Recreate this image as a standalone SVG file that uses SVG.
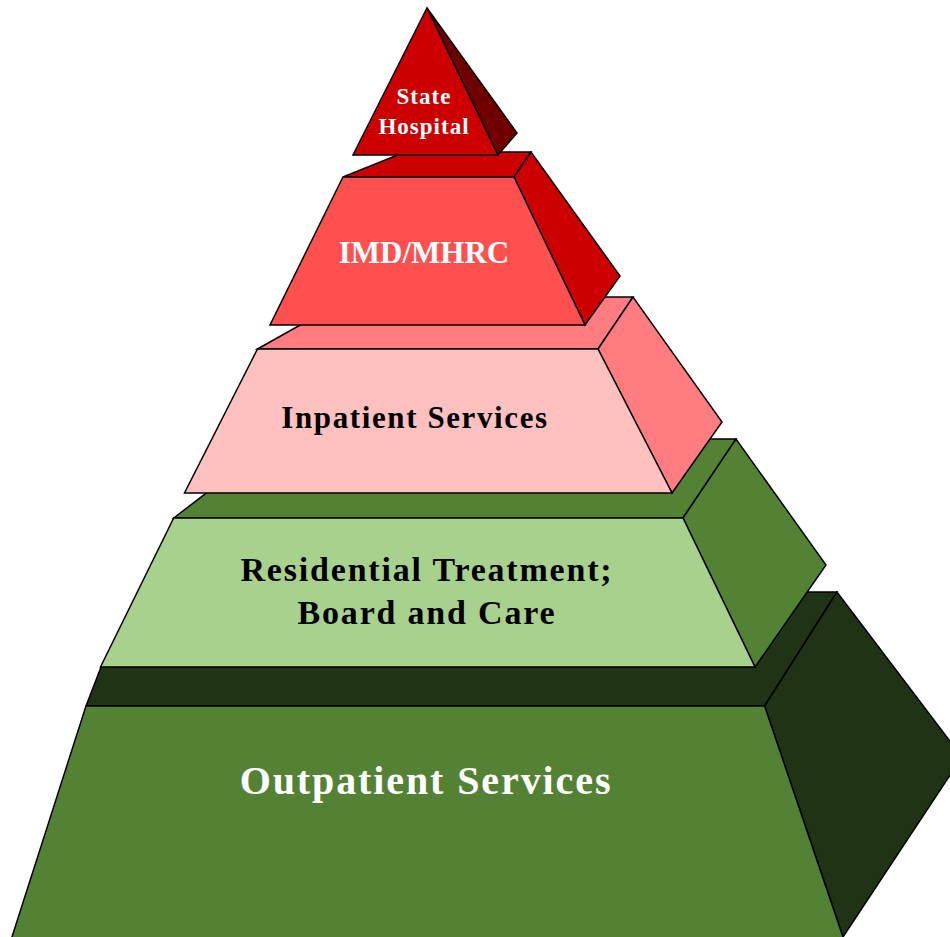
<svg xmlns="http://www.w3.org/2000/svg" width="950" height="937" viewBox="0 0 950 937">
<style>
.e{stroke:#000;stroke-width:1.5;stroke-linejoin:miter}
.t{font-family:"Liberation Serif","Times New Roman",serif;font-weight:bold;text-anchor:middle}
.w{fill:#fff}
.k{fill:#000}
</style>
<rect width="950" height="937" fill="#fff"/>
<g id="tier-outpatient">
<polygon class="e" fill="#203315" points="86,706 101,667 150,592 837,592 764.6,706"/>
<polygon class="e" fill="#203315" points="764.6,706 837,592 962,757 843,937"/>
<polygon class="e" fill="#548235" points="86,706 764.6,706 844,940 11,940"/>
<text class="t w" x="426" y="794" font-size="40" letter-spacing="1.9">Outpatient Services</text>
</g>
<g id="tier-residential">
<polygon class="e" fill="#548235" points="173.7,518 277,439 736,439 683,518"/>
<polygon class="e" fill="#548235" points="683,518 736,439 826,565 755,667"/>
<polygon class="e" fill="#A9D18E" points="173.7,518 683,518 755,667 100.5,667"/>
<text class="t k" x="427" y="581" font-size="34" letter-spacing="1.8">Residential Treatment;</text>
<text class="t k" x="427" y="624" font-size="34" letter-spacing="1.8">Board and Care</text>
</g>
<g id="tier-inpatient">
<polygon class="e" fill="#FF7C80" points="257.5,349 350,297 633,297 598,349"/>
<polygon class="e" fill="#FF7C80" points="598,349 633,297 722,422 672,493"/>
<polygon class="e" fill="#FFC0C0" points="257.5,349 598,349 672,493 184.5,493"/>
<text class="t k" x="415" y="428" font-size="31" letter-spacing="1.6">Inpatient Services</text>
</g>
<g id="tier-imd">
<polygon class="e" fill="#CC0000" points="343,177 405,152 531,152 514,177"/>
<polygon class="e" fill="#CC0000" points="514,177 531,152 620,276 585,325"/>
<polygon class="e" fill="#FF5050" points="343,177 514,177 585,325 270,325"/>
<text class="t w" x="424" y="263" font-size="31">IMD/MHRC</text>
</g>
<g id="tier-state-hospital">
<polygon class="e" fill="#700000" points="427,8 517,133 498,155"/>
<polygon class="e" fill="#CC0000" points="427,8 498,155 353,155"/>
<text class="t w" x="424" y="104" font-size="23" letter-spacing="1">State</text>
<text class="t w" x="424" y="134" font-size="23" letter-spacing="1">Hospital</text>
</g>
</svg>
